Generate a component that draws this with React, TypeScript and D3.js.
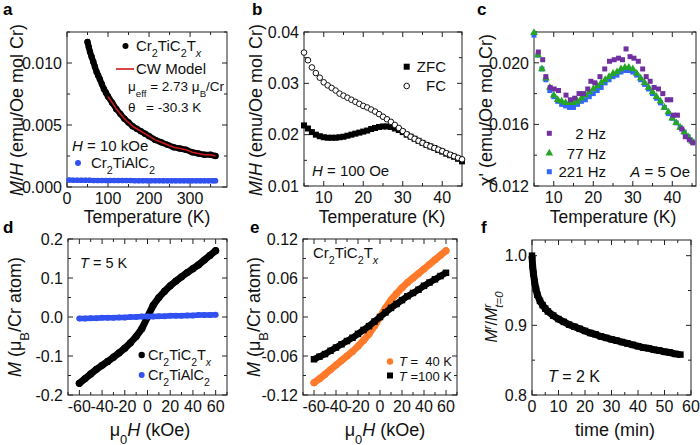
import React from "react";
import * as d3 from "d3";

const FONT = "'Liberation Sans', Arial, Helvetica, sans-serif";

// ---------- Panel a ----------
const aBlackT = [50, 53, 56, 60, 64, 68, 72, 76, 80, 85, 90, 95, 100, 110, 120, 130, 140, 150, 160, 170, 180, 190, 200, 215, 230, 245, 260, 275, 290, 305, 320, 335, 350, 362];
const aBlackMH = [0.0117, 0.0113, 0.0109, 0.0105, 0.0101, 0.0097, 0.0093, 0.009, 0.0087, 0.0083, 0.0079, 0.0076, 0.0073, 0.0068, 0.0063, 0.0059, 0.0055, 0.0052, 0.0049, 0.0047, 0.0045, 0.0043, 0.0041, 0.0038, 0.0036, 0.0034, 0.0032, 0.0031, 0.003, 0.0028, 0.0027, 0.0026, 0.0026, 0.0025];
const aCwT = [100, 110, 120, 130, 140, 150, 160, 170, 180, 190, 200, 215, 230, 245, 260, 275, 290, 305, 320, 335, 350, 362];
const aCwMH = [0.0073, 0.0068, 0.0063, 0.0059, 0.0055, 0.0052, 0.0049, 0.0047, 0.0045, 0.0043, 0.0041, 0.0038, 0.0036, 0.0034, 0.0032, 0.0031, 0.003, 0.0028, 0.0027, 0.0026, 0.0026, 0.0025];
const aBlueT = [5, 15, 25, 35, 45, 55, 65, 75, 85, 95, 105, 115, 125, 135, 145, 155, 165, 175, 185, 195, 205, 215, 225, 235, 245, 255, 265, 275, 285, 295, 305, 315, 325, 335, 345, 355, 362];
const aBlueMH = [0.00056, 0.00055, 0.00055, 0.00054, 0.00054, 0.00054, 0.00053, 0.00053, 0.00053, 0.00053, 0.00052, 0.00052, 0.00052, 0.00052, 0.00052, 0.00052, 0.00051, 0.00051, 0.00051, 0.00051, 0.00051, 0.00051, 0.00051, 0.0005, 0.0005, 0.0005, 0.0005, 0.0005, 0.0005, 0.0005, 0.0005, 0.0005, 0.0005, 0.0005, 0.0005, 0.0005, 0.0005];

// ---------- Panel b ----------
const bT = [5, 6, 7, 8, 9, 10, 11, 12, 13, 14, 15, 16, 17, 18, 19, 20, 21, 22, 23, 24, 25, 26, 27, 28, 29, 30, 31, 32, 33, 34, 35, 36, 37, 38, 39, 40, 41, 42, 43, 44, 45];
const bZFC = [0.0218, 0.0212, 0.0205, 0.02, 0.0197, 0.0195, 0.0194, 0.0194, 0.0194, 0.0195, 0.0196, 0.0198, 0.02, 0.0202, 0.0204, 0.0206, 0.0208, 0.0211, 0.0213, 0.0215, 0.0216, 0.0216, 0.0215, 0.0212, 0.0209, 0.0205, 0.02, 0.0196, 0.0192, 0.0188, 0.0184, 0.018, 0.0177, 0.0174, 0.017, 0.0167, 0.0163, 0.016, 0.0157, 0.0153, 0.0148];
const bFC = [0.036, 0.0345, 0.0331, 0.032, 0.0311, 0.0302, 0.0296, 0.0291, 0.0286, 0.028, 0.0276, 0.0272, 0.0268, 0.0264, 0.026, 0.0256, 0.0253, 0.0249, 0.0245, 0.024, 0.0235, 0.023, 0.0225, 0.0219, 0.0213, 0.0207, 0.0201, 0.0196, 0.0192, 0.0188, 0.0184, 0.018, 0.0177, 0.0174, 0.0171, 0.0168, 0.0164, 0.0161, 0.0158, 0.0155, 0.0152];

// ---------- Panel c ----------
const cT = [5, 6, 7, 8, 9, 10, 11, 12, 13, 14, 15, 16, 17, 18, 19, 20, 21, 22, 23, 24, 25, 26, 27, 28, 29, 30, 31, 32, 33, 34, 35, 36, 37, 38, 39, 40, 41, 42, 43, 44, 45];
const c221 = [0.0218, 0.0205, 0.0196, 0.0189, 0.0182, 0.0178, 0.0175, 0.0173, 0.0172, 0.0171, 0.0171, 0.0173, 0.0175, 0.0176, 0.0178, 0.018, 0.0182, 0.0184, 0.0187, 0.0189, 0.0191, 0.0192, 0.0194, 0.0195, 0.0195, 0.0194, 0.0192, 0.0189, 0.0186, 0.0183, 0.018, 0.0177, 0.0174, 0.0171, 0.0167, 0.0164, 0.0161, 0.0158, 0.0155, 0.0152, 0.0149];
const c77 = [0.02195, 0.0205, 0.0196, 0.019, 0.0184, 0.0179, 0.0176, 0.0175, 0.0174, 0.0174, 0.0174, 0.0175, 0.0177, 0.0179, 0.0181, 0.0183, 0.0185, 0.0187, 0.0189, 0.0191, 0.0193, 0.0194, 0.0196, 0.0197, 0.0197, 0.0196, 0.0193, 0.019, 0.0187, 0.0184, 0.0181, 0.0178, 0.0175, 0.0171, 0.0168, 0.0164, 0.0161, 0.0158, 0.0155, 0.0152, 0.0149];
const c2T = [6.1, 7.2, 8.0, 9.1, 10.1, 11.2, 13.1, 14.2, 15.3, 16.4, 17.5, 18.6, 19.4, 20.4, 21.7, 22.9, 24.1, 25.3, 26.4, 27.4, 28.3, 29.3, 30.3, 31.4, 32.5, 33.4, 34.4, 35.4, 36.5, 37.6, 38.7, 39.6, 40.3, 41.3, 42.4, 43.3, 44.3, 45.2];
const c2 = [0.0207, 0.0202, 0.0191, 0.0184, 0.0183, 0.0182, 0.0179, 0.0176, 0.0177, 0.018, 0.018, 0.0183, 0.0188, 0.0187, 0.0191, 0.0196, 0.0201, 0.0202, 0.0203, 0.0202, 0.0209, 0.0204, 0.0203, 0.0201, 0.0196, 0.0191, 0.0188, 0.0184, 0.0183, 0.018, 0.0176, 0.0176, 0.0166, 0.0166, 0.0157, 0.0152, 0.015, 0.0148];

// ---------- Panel d ----------
const dH = [-60, -55, -50, -45, -40, -35, -30, -25, -20, -15, -10, -5, 0, 5, 10, 15, 20, 25, 30, 35, 40, 45, 50, 55, 60];
const dMXene = [-0.17, -0.158, -0.146, -0.134, -0.124, -0.114, -0.103, -0.092, -0.08, -0.066, -0.05, -0.03, 0.0, 0.03, 0.05, 0.066, 0.08, 0.092, 0.103, 0.114, 0.124, 0.134, 0.146, 0.158, 0.17];
const dMAX = [-0.004, -0.004, -0.003, -0.003, -0.002, -0.002, -0.002, -0.001, -0.001, 0.0, 0.0, 0.001, 0.001, 0.001, 0.002, 0.002, 0.003, 0.003, 0.003, 0.004, 0.004, 0.005, 0.005, 0.005, 0.006];

// ---------- Panel e ----------
const eH = [-60, -55, -50, -45, -40, -35, -30, -25, -20, -15, -10, -5, 0, 5, 10, 15, 20, 25, 30, 35, 40, 45, 50, 55, 60];
const e40K = [-0.101, -0.095, -0.088, -0.081, -0.074, -0.067, -0.06, -0.053, -0.045, -0.036, -0.026, -0.014, 0.0, 0.014, 0.026, 0.036, 0.045, 0.053, 0.06, 0.067, 0.074, 0.081, 0.088, 0.095, 0.102];
const e100K = [-0.065, -0.061, -0.057, -0.052, -0.047, -0.042, -0.037, -0.032, -0.026, -0.02, -0.014, -0.007, 0.0, 0.007, 0.014, 0.02, 0.026, 0.032, 0.037, 0.042, 0.048, 0.053, 0.058, 0.063, 0.068];

// ---------- Panel f ----------
const fTime = [0, 0.25, 0.5, 1, 1.5, 2, 3, 4, 5, 6, 8, 10, 12, 14, 16, 18, 20, 22, 24, 26, 28, 30, 32, 34, 36, 38, 40, 42, 44, 46, 48, 50, 52, 54, 56];
const fRatio = [1.0, 0.985, 0.975, 0.962, 0.952, 0.944, 0.935, 0.929, 0.924, 0.92, 0.914, 0.909, 0.905, 0.901, 0.898, 0.895, 0.892, 0.889, 0.887, 0.884, 0.882, 0.88, 0.878, 0.876, 0.874, 0.872, 0.87, 0.868, 0.867, 0.865, 0.864, 0.862, 0.861, 0.859, 0.858];

// tick values
const aXMajor = [0, 100, 200, 300];
const aXMinor = [50, 150, 250, 350];
const aYMajor = [0, 0.005, 0.01];
const aYMinor = [0.0025, 0.0075, 0.0125];
const tXMajor = [10, 20, 30, 40];
const tXMinor = [5, 15, 25, 35, 45];
const bYMajor = [0.01, 0.02, 0.03, 0.04];
const bYMinor = [0.015, 0.025, 0.035];
const cYMajor = [0.012, 0.016, 0.02];
const cYMinor = [0.014, 0.018, 0.022];
const hXMajor = [-60, -40, -20, 0, 20, 40, 60];
const hXMinor = [-70, -50, -30, -10, 10, 30, 50, 70];
const dYMajor = [-0.2, -0.1, 0, 0.1, 0.2];
const dYMinor = [-0.15, -0.05, 0.05, 0.15];
const eYMajor = [-0.12, -0.06, 0, 0.06, 0.12];
const eYMinor = [-0.09, -0.03, 0.03, 0.09];
const fXMajor = [0, 10, 20, 30, 40, 50, 60];
const fXMinor = [5, 15, 25, 35, 45, 55];
const fYMajor = [0.8, 0.9, 1.0];
const fYMinor = [0.85, 0.95];

const BLUE = "#3152f0";
const RED = "#cc1a1a";
const PURPLE = "#7030a0";
const GREEN = "#24a624";
const BLUE2 = "#3366ff";
const ORANGE = "#ff7a2a";

type Sc = d3.ScaleLinear<number, number>;

function Axes(props: {
  x: Sc; y: Sc; xMajor: number[]; xMinor: number[]; yMajor: number[]; yMinor: number[];
  xFmt: (v: number) => string; yFmt: (v: number) => string;
}) {
  const { x, y, xMajor, xMinor, yMajor, yMinor, xFmt, yFmt } = props;
  const [x0, x1] = x.range();
  const [yb, yt] = y.range();
  const MJ = 5, MN = 3;
  const ticks: React.ReactNode[] = [];
  const addX = (vals: number[], len: number, k: string) =>
    vals.forEach((v, i) => {
      const px = x(v);
      ticks.push(<line key={k + "b" + i} x1={px} x2={px} y1={yb} y2={yb - len} />);
      ticks.push(<line key={k + "t" + i} x1={px} x2={px} y1={yt} y2={yt + len} />);
    });
  const addY = (vals: number[], len: number, k: string) =>
    vals.forEach((v, i) => {
      const py = y(v);
      ticks.push(<line key={k + "l" + i} x1={x0} x2={x0 + len} y1={py} y2={py} />);
      ticks.push(<line key={k + "r" + i} x1={x1} x2={x1 - len} y1={py} y2={py} />);
    });
  addX(xMajor, MJ, "xM");
  addX(xMinor, MN, "xm");
  addY(yMajor, MJ, "yM");
  addY(yMinor, MN, "ym");
  return (
    <g>
      <g stroke="#222" strokeWidth={1}>{ticks}</g>
      <rect x={x0} y={yt} width={x1 - x0} height={yb - yt} fill="none" stroke="#222" strokeWidth={1} />
      <g fontSize={16} fill="#111">
        {xMajor.map((v, i) => (
          <text key={"xl" + i} x={x(v)} y={yb + 16.5} textAnchor="middle">{xFmt(v)}</text>
        ))}
        {yMajor.map((v, i) => (
          <text key={"yl" + i} x={x0 - 5} y={y(v) + 5.8} textAnchor="end">{yFmt(v)}</text>
        ))}
      </g>
    </g>
  );
}

const Sub = ({ children, italic }: { children: React.ReactNode; italic?: boolean }) => (
  <tspan baselineShift="sub" fontSize="0.72em" fontStyle={italic ? "italic" : undefined}>{children}</tspan>
);
const Sup = ({ children, italic }: { children: React.ReactNode; italic?: boolean }) => (
  <tspan baselineShift="super" fontSize="0.72em" fontStyle={italic ? "italic" : undefined}>{children}</tspan>
);
const It = ({ children }: { children: React.ReactNode }) => <tspan fontStyle="italic">{children}</tspan>;

const pathOf = (xs: number[], ys: number[], x: Sc, y: Sc) =>
  d3.line()(xs.map((v, i) => [x(v), y(ys[i])] as [number, number])) || "";

function Circles({ xs, ys, x, y, r, fill, band }: { xs: number[]; ys: number[]; x: Sc; y: Sc; r: number; fill: string; band?: number }) {
  return (
    <g>
      {band ? <path d={pathOf(xs, ys, x, y)} fill="none" stroke={fill} strokeWidth={band} strokeLinecap="round" strokeLinejoin="round" /> : null}
      {xs.map((v, i) => <circle key={i} cx={x(v)} cy={y(ys[i])} r={r} fill={fill} />)}
    </g>
  );
}

function Squares({ xs, ys, x, y, s, fill, band }: { xs: number[]; ys: number[]; x: Sc; y: Sc; s: number; fill: string; band?: number }) {
  return (
    <g>
      {band ? <path d={pathOf(xs, ys, x, y)} fill="none" stroke={fill} strokeWidth={band} strokeLinejoin="round" /> : null}
      {xs.map((v, i) => <rect key={i} x={x(v) - s / 2} y={y(ys[i]) - s / 2} width={s} height={s} fill={fill} />)}
    </g>
  );
}

const triPath = d3.symbol().type(d3.symbolTriangle).size(26)() || "";

export default function App() {
  // scales
  const ax = d3.scaleLinear().domain([0, 390]).range([67, 227]);
  const ay = d3.scaleLinear().domain([0, 0.0125]).range([187, 32]);
  const bx = d3.scaleLinear().domain([5, 45]).range([304, 462]);
  const by = d3.scaleLinear().domain([0.01, 0.04]).range([186, 32]);
  const cx = d3.scaleLinear().domain([5, 46]).range([534, 696]);
  const cy = d3.scaleLinear().domain([0.012, 0.022]).range([186, 32]);
  const dx = d3.scaleLinear().domain([-70, 70]).range([68, 227]);
  const dy = d3.scaleLinear().domain([-0.2, 0.2]).range([395, 239]);
  const ex = d3.scaleLinear().domain([-70, 70]).range([303, 457]);
  const ey = d3.scaleLinear().domain([-0.12, 0.12]).range([395, 239]);
  const fx = d3.scaleLinear().domain([0, 60]).range([532, 691]);
  const fy = d3.scaleLinear().domain([0.8, 1.0225]).range([395, 240]);

  const f3 = d3.format(".3f");
  const f2 = d3.format(".2f");
  const f1 = d3.format(".1f");
  const fi = (v: number) => String(v);
  const hyph = (s: string) => s.replace("\u2212", "-");

  const yTitle = (x: number, yc: number, content: React.ReactNode, fs = 18) => (
    <text transform={`translate(${x},${yc}) rotate(-90)`} textAnchor="middle" fontSize={fs} fill="#111">{content}</text>
  );

  return (
    <svg width={700} height={445} viewBox="0 0 700 445" style={{ position: "absolute", left: 0, top: 0, background: "#fff" }} fontFamily={FONT}>
      <rect x={0} y={0} width={700} height={445} fill="#fff" />

      {/* panel labels */}
      <g fontSize={17} fontWeight="bold" fill="#000">
        <text x={3} y={15}>a</text>
        <text x={252} y={15}>b</text>
        <text x={477} y={15}>c</text>
        <text x={3} y={233}>d</text>
        <text x={250} y={233}>e</text>
        <text x={481} y={233}>f</text>
      </g>

      {/* ---------------- a ---------------- */}
      <Axes x={ax} y={ay} xMajor={aXMajor} xMinor={aXMinor} yMajor={aYMajor} yMinor={aYMinor} xFmt={fi} yFmt={(v) => f3(v)} />
      <Circles xs={aBlueT} ys={aBlueMH} x={ax} y={ay} r={2.8} fill={BLUE} band={5} />
      <Circles xs={aBlackT} ys={aBlackMH} x={ax} y={ay} r={3.2} fill="#000" band={6} />
      <path d={pathOf(aCwT, aCwMH, ax, ay)} fill="none" stroke={RED} strokeWidth={1.6} />
      <g fontSize={15} fill="#111">
        <circle cx={125.5} cy={46} r={3} fill="#000" />
        <text x={136} y={51}>Cr<Sub>2</Sub>TiC<Sub>2</Sub>T<Sub italic>x</Sub></text>
        <line x1={116} x2={134} y1={69} y2={69} stroke={RED} strokeWidth={1.6} />
        <text x={136} y={74}>CW Model</text>
        <text x={128} y={91} fontSize={13.5}>μ<Sub>eff</Sub> = 2.73 μ<Sub>B</Sub>/Cr</text>
        <text x={128} y={112} fontSize={13.5}>θ</text>
        <text x={146} y={112} fontSize={13.5}>= -30.3 K</text>
        <text x={72} y={151}><It>H</It> = 10 kOe</text>
        <circle cx={78} cy={163} r={3} fill={BLUE} />
        <text x={91} y={168}>Cr<Sub>2</Sub>TiAlC<Sub>2</Sub></text>
      </g>
      <text x={147} y={223} textAnchor="middle" fontSize={17.5} fill="#111">Temperature (K)</text>
      {yTitle(23, 110, <><It>M</It>/<It>H</It> (emu/Oe mol Cr)</>)}

      {/* ---------------- b ---------------- */}
      <Axes x={bx} y={by} xMajor={tXMajor} xMinor={tXMinor} yMajor={bYMajor} yMinor={bYMinor} xFmt={fi} yFmt={(v) => f2(v)} />
      <Squares xs={bT} ys={bZFC} x={bx} y={by} s={6} fill="#000" />
      {bT.map((v, i) => (
        <circle key={"fc" + i} cx={bx(v)} cy={by(bFC[i])} r={2.8} fill="#fff" stroke="#111" strokeWidth={1} />
      ))}
      <g fontSize={15} fill="#111">
        <rect x={406.7 - 3} y={66.7 - 3} width={6} height={6} fill="#000" />
        <text x={446} y={72} textAnchor="end">ZFC</text>
        <circle cx={406.7} cy={86} r={2.8} fill="#fff" stroke="#111" strokeWidth={1} />
        <text x={446} y={91} textAnchor="end">FC</text>
        <text x={312} y={175.5}><It>H</It> = 100 Oe</text>
      </g>
      <text x={382} y={223} textAnchor="middle" fontSize={17.5} fill="#111">Temperature (K)</text>
      {yTitle(262, 110, <><It>M</It>/<It>H</It> (emu/Oe mol Cr)</>)}

      {/* ---------------- c ---------------- */}
      <Axes x={cx} y={cy} xMajor={tXMajor} xMinor={tXMinor} yMajor={cYMajor} yMinor={cYMinor} xFmt={fi} yFmt={(v) => f3(v)} />
      <Squares xs={cT} ys={c221} x={cx} y={cy} s={5} fill={BLUE2} />
      {cT.map((v, i) => (
        <path key={"g" + i} d={triPath} transform={`translate(${cx(v)},${cy(c77[i])})`} fill={GREEN} />
      ))}
      <Squares xs={c2T} ys={c2} x={cx} y={cy} s={5} fill={PURPLE} />
      <g fontSize={15} fill="#111">
        <rect x={549.3 - 2.5} y={133.3 - 2.5} width={5} height={5} fill={PURPLE} />
        <text x={606} y={138.5} textAnchor="end">2 Hz</text>
        <path d={triPath} transform="translate(549.3,153.3)" fill={GREEN} />
        <text x={606} y={158.5} textAnchor="end">77 Hz</text>
        <rect x={549.3 - 2.5} y={171.7 - 2.5} width={5} height={5} fill={BLUE2} />
        <text x={606} y={177} textAnchor="end">221 Hz</text>
        <text x={690} y={177} textAnchor="end"><It>A</It> = 5 Oe</text>
      </g>
      <text x={613} y={223} textAnchor="middle" fontSize={17.5} fill="#111">Temperature (K)</text>
      {yTitle(492, 110, <>χ' (emu/Oe mol Cr)</>)}

      {/* ---------------- d ---------------- */}
      <Axes x={dx} y={dy} xMajor={hXMajor} xMinor={hXMinor} yMajor={dYMajor} yMinor={dYMinor} xFmt={fi} yFmt={(v) => hyph(f1(v))} />
      <Circles xs={dH} ys={dMXene} x={dx} y={dy} r={3.6} fill="#000" band={7} />
      <Circles xs={dH} ys={dMAX} x={dx} y={dy} r={3} fill={BLUE} band={5.5} />
      <g fontSize={14.5} fill="#111">
        <text x={80} y={268}><It>T</It> = 5 K</text>
        <circle cx={141.7} cy={355} r={3.2} fill="#000" />
        <text x={148} y={359.5}>Cr<Sub>2</Sub>TiC<Sub>2</Sub>T<Sub italic>x</Sub></text>
        <circle cx={141.7} cy={375} r={3} fill={BLUE} />
        <text x={148} y={380}>Cr<Sub>2</Sub>TiAlC<Sub>2</Sub></text>
      </g>
      <text x={150} y={436} textAnchor="middle" fontSize={18} fill="#111">μ<Sub>0</Sub><It>H</It> (kOe)</text>
      {yTitle(21, 317, <><It>M</It> (μ<Sub>B</Sub>/Cr atom)</>)}

      {/* ---------------- e ---------------- */}
      <Axes x={ex} y={ey} xMajor={hXMajor} xMinor={hXMinor} yMajor={eYMajor} yMinor={eYMinor} xFmt={fi} yFmt={(v) => hyph(f2(v))} />
      <Circles xs={eH} ys={e40K} x={ex} y={ey} r={3.5} fill={ORANGE} band={7} />
      <Squares xs={eH} ys={e100K} x={ex} y={ey} s={6.5} fill="#000" band={6.5} />
      <g fontSize={13} fill="#111">
        <text x={313} y={258} fontSize={15}>Cr<Sub>2</Sub>TiC<Sub>2</Sub>T<Sub italic>x</Sub></text>
        <circle cx={390} cy={361.5} r={3.2} fill={ORANGE} />
        <text x={452} y={366} textAnchor="end" style={{ whiteSpace: "pre" }}><It>T</It> =  40 K</text>
        <rect x={390 - 3} y={375.5 - 3} width={6} height={6} fill="#000" />
        <text x={452} y={381} textAnchor="end"><It>T</It> =100 K</text>
      </g>
      <text x={385} y={436} textAnchor="middle" fontSize={18} fill="#111">μ<Sub>0</Sub><It>H</It> (kOe)</text>
      {yTitle(260, 317, <><It>M</It> (μ<Sub>B</Sub>/Cr atom)</>)}

      {/* ---------------- f ---------------- */}
      <Axes x={fx} y={fy} xMajor={fXMajor} xMinor={fXMinor} yMajor={fYMajor} yMinor={fYMinor} xFmt={fi} yFmt={(v) => f1(v)} />
      <Squares xs={fTime} ys={fRatio} x={fx} y={fy} s={6.5} fill="#000" band={7} />
      <text x={548} y={382} fontSize={16} fill="#111"><It>T</It> = 2 K</text>
      <text x={615} y={436} textAnchor="middle" fontSize={18} fill="#111">time (min)</text>
      {yTitle(497, 317, <><It>M</It><Sup italic>r</Sup>/<It>M</It><Sup italic>r</Sup><tspan dx={-4} baselineShift="sub" fontSize="0.72em" fontStyle="italic">t=0</tspan></>, 16)}
    </svg>
  );
}
